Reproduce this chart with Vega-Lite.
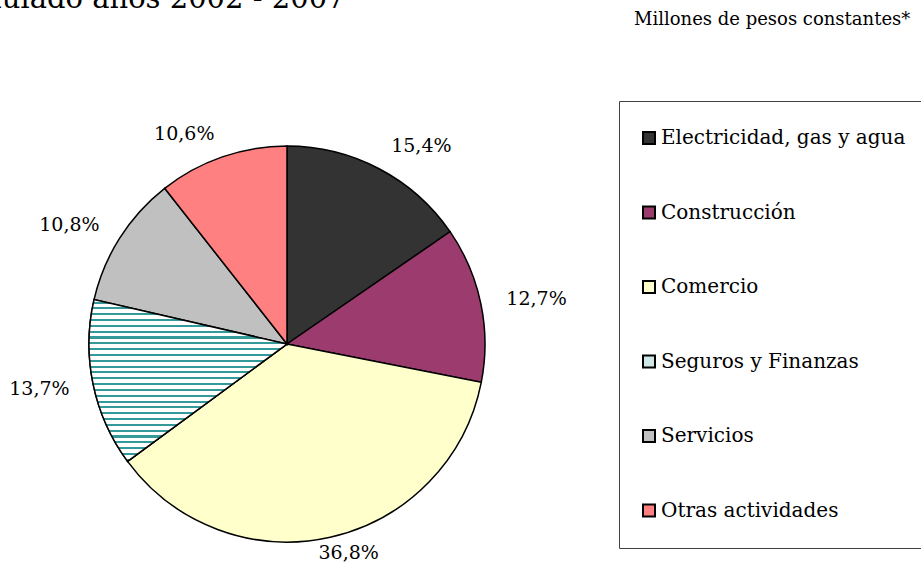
{
  "$schema": "https://vega.github.io/schema/vega-lite/v6.json",
  "width": 574,
  "height": 420,
  "autosize": {"type": "none"},
  "padding": {"left": 0, "top": 134, "right": 347, "bottom": 12},
  "background": "white",
  "title": {
    "text": "acumulado años 2002 - 2007",
    "anchor": "start",
    "frame": "group",
    "font": "DejaVu Serif",
    "fontSize": 29,
    "fontWeight": "normal",
    "color": "black",
    "baseline": "alphabetic",
    "offset": 1,
    "dy": 26.5,
    "dx": -78
  },
  "data": {
    "values": [
      {"Actividad": "Electricidad, gas y agua", "Participacion": 0.154, "Orden": 1, "Unidad": "Millones de pesos constantes*"},
      {"Actividad": "Construcción", "Participacion": 0.127, "Orden": 2, "Unidad": "Millones de pesos constantes*"},
      {"Actividad": "Comercio", "Participacion": 0.368, "Orden": 3, "Unidad": "Millones de pesos constantes*"},
      {"Actividad": "Seguros y Finanzas", "Participacion": 0.137, "Orden": 4, "Unidad": "Millones de pesos constantes*"},
      {"Actividad": "Servicios", "Participacion": 0.108, "Orden": 5, "Unidad": "Millones de pesos constantes*"},
      {"Actividad": "Otras actividades", "Participacion": 0.106, "Orden": 6, "Unidad": "Millones de pesos constantes*"}
    ]
  },
  "layer": [
    {
      "mark": {"type": "arc", "radius": 198, "stroke": "black", "strokeWidth": 1.5},
      "encoding": {
        "theta": {"field": "Participacion", "type": "quantitative", "stack": true},
        "order": {"field": "Orden", "type": "quantitative"},
        "color": {
          "field": "Actividad",
          "type": "nominal",
          "scale": {
            "domain": ["Electricidad, gas y agua", "Construcción", "Comercio", "Seguros y Finanzas", "Servicios", "Otras actividades"],
            "range": ["#333333", "#9c3c6e", "#FFFFCC", "#cfe7e7", "#C0C0C0", "#FF8080"]
          },
          "legend": {
            "title": null,
            "orient": "none",
            "legendX": 619,
            "legendY": -33,
            "padding": 27,
            "strokeColor": "#404040",
            "fillColor": "white",
            "symbolType": "square",
            "symbolSize": 144,
            "symbolStrokeColor": "black",
            "symbolStrokeWidth": 2,
            "symbolOpacity": 1,
            "symbolOffset": -7,
            "labelFont": "DejaVu Serif",
            "labelFontSize": 20,
            "labelColor": "black",
            "labelOffset": 2,
            "labelLimit": 400,
            "rowPadding": 54.5
          }
        },
        "opacity": {
          "field": "Unidad",
          "type": "nominal",
          "scale": {"range": [1, 1]},
          "legend": {
            "title": null,
            "orient": "none",
            "legendX": 616,
            "legendY": -123,
            "padding": 0,
            "symbolSize": 0,
            "symbolOpacity": 0,
            "symbolStrokeWidth": 0,
            "labelOffset": 0,
            "labelFont": "DejaVu Serif",
            "labelFontSize": 18,
            "labelColor": "black",
            "labelLimit": 400
          }
        }
      }
    },
    {
      "mark": {
        "type": "arc",
        "radius": 198,
        "stroke": "black",
        "strokeWidth": 1.5,
        "fill": {
          "gradient": "linear",
          "x1": 0, "y1": 0, "x2": 0, "y2": 1,
          "stops": [
            {"offset": 0, "color": "#ffffff"},
            {"offset": 0.012, "color": "#ffffff"}, {"offset": 0.012, "color": "#339999"}, {"offset": 0.0245, "color": "#339999"}, {"offset": 0.0245, "color": "#ffffff"},
            {"offset": 0.048, "color": "#ffffff"}, {"offset": 0.048, "color": "#339999"}, {"offset": 0.0605, "color": "#339999"}, {"offset": 0.0605, "color": "#ffffff"},
            {"offset": 0.084, "color": "#ffffff"}, {"offset": 0.084, "color": "#339999"}, {"offset": 0.0965, "color": "#339999"}, {"offset": 0.0965, "color": "#ffffff"},
            {"offset": 0.12, "color": "#ffffff"}, {"offset": 0.12, "color": "#339999"}, {"offset": 0.1325, "color": "#339999"}, {"offset": 0.1325, "color": "#ffffff"},
            {"offset": 0.156, "color": "#ffffff"}, {"offset": 0.156, "color": "#339999"}, {"offset": 0.1685, "color": "#339999"}, {"offset": 0.1685, "color": "#ffffff"},
            {"offset": 0.192, "color": "#ffffff"}, {"offset": 0.192, "color": "#339999"}, {"offset": 0.2045, "color": "#339999"}, {"offset": 0.2045, "color": "#ffffff"},
            {"offset": 0.228, "color": "#ffffff"}, {"offset": 0.228, "color": "#339999"}, {"offset": 0.2405, "color": "#339999"}, {"offset": 0.2405, "color": "#ffffff"},
            {"offset": 0.264, "color": "#ffffff"}, {"offset": 0.264, "color": "#339999"}, {"offset": 0.2765, "color": "#339999"}, {"offset": 0.2765, "color": "#ffffff"},
            {"offset": 0.3, "color": "#ffffff"}, {"offset": 0.3, "color": "#339999"}, {"offset": 0.3125, "color": "#339999"}, {"offset": 0.3125, "color": "#ffffff"},
            {"offset": 0.336, "color": "#ffffff"}, {"offset": 0.336, "color": "#339999"}, {"offset": 0.3485, "color": "#339999"}, {"offset": 0.3485, "color": "#ffffff"},
            {"offset": 0.372, "color": "#ffffff"}, {"offset": 0.372, "color": "#339999"}, {"offset": 0.3845, "color": "#339999"}, {"offset": 0.3845, "color": "#ffffff"},
            {"offset": 0.408, "color": "#ffffff"}, {"offset": 0.408, "color": "#339999"}, {"offset": 0.4205, "color": "#339999"}, {"offset": 0.4205, "color": "#ffffff"},
            {"offset": 0.444, "color": "#ffffff"}, {"offset": 0.444, "color": "#339999"}, {"offset": 0.4565, "color": "#339999"}, {"offset": 0.4565, "color": "#ffffff"},
            {"offset": 0.48, "color": "#ffffff"}, {"offset": 0.48, "color": "#339999"}, {"offset": 0.4925, "color": "#339999"}, {"offset": 0.4925, "color": "#ffffff"},
            {"offset": 0.516, "color": "#ffffff"}, {"offset": 0.516, "color": "#339999"}, {"offset": 0.5285, "color": "#339999"}, {"offset": 0.5285, "color": "#ffffff"},
            {"offset": 0.552, "color": "#ffffff"}, {"offset": 0.552, "color": "#339999"}, {"offset": 0.5645, "color": "#339999"}, {"offset": 0.5645, "color": "#ffffff"},
            {"offset": 0.588, "color": "#ffffff"}, {"offset": 0.588, "color": "#339999"}, {"offset": 0.6005, "color": "#339999"}, {"offset": 0.6005, "color": "#ffffff"},
            {"offset": 0.624, "color": "#ffffff"}, {"offset": 0.624, "color": "#339999"}, {"offset": 0.6365, "color": "#339999"}, {"offset": 0.6365, "color": "#ffffff"},
            {"offset": 0.66, "color": "#ffffff"}, {"offset": 0.66, "color": "#339999"}, {"offset": 0.6725, "color": "#339999"}, {"offset": 0.6725, "color": "#ffffff"},
            {"offset": 0.696, "color": "#ffffff"}, {"offset": 0.696, "color": "#339999"}, {"offset": 0.7085, "color": "#339999"}, {"offset": 0.7085, "color": "#ffffff"},
            {"offset": 0.732, "color": "#ffffff"}, {"offset": 0.732, "color": "#339999"}, {"offset": 0.7445, "color": "#339999"}, {"offset": 0.7445, "color": "#ffffff"},
            {"offset": 0.768, "color": "#ffffff"}, {"offset": 0.768, "color": "#339999"}, {"offset": 0.7805, "color": "#339999"}, {"offset": 0.7805, "color": "#ffffff"},
            {"offset": 0.804, "color": "#ffffff"}, {"offset": 0.804, "color": "#339999"}, {"offset": 0.8165, "color": "#339999"}, {"offset": 0.8165, "color": "#ffffff"},
            {"offset": 0.84, "color": "#ffffff"}, {"offset": 0.84, "color": "#339999"}, {"offset": 0.8525, "color": "#339999"}, {"offset": 0.8525, "color": "#ffffff"},
            {"offset": 0.876, "color": "#ffffff"}, {"offset": 0.876, "color": "#339999"}, {"offset": 0.8885, "color": "#339999"}, {"offset": 0.8885, "color": "#ffffff"},
            {"offset": 0.912, "color": "#ffffff"}, {"offset": 0.912, "color": "#339999"}, {"offset": 0.9245, "color": "#339999"}, {"offset": 0.9245, "color": "#ffffff"},
            {"offset": 0.948, "color": "#ffffff"}, {"offset": 0.948, "color": "#339999"}, {"offset": 0.9605, "color": "#339999"}, {"offset": 0.9605, "color": "#ffffff"},
            {"offset": 0.984, "color": "#ffffff"}, {"offset": 0.984, "color": "#339999"}, {"offset": 0.9965, "color": "#339999"}, {"offset": 0.9965, "color": "#ffffff"},
            {"offset": 1, "color": "#ffffff"}
          ]
        }
      },
      "encoding": {
        "theta": {"field": "Participacion", "type": "quantitative", "stack": true},
        "order": {"field": "Orden", "type": "quantitative"},
        "opacity": {"condition": {"test": "datum.Orden == 4", "value": 1}, "value": 0}
      }
    },
    {
      "mark": {"type": "text", "radius": 224, "align": "left", "baseline": "middle", "font": "DejaVu Serif", "fontSize": 19, "color": "black"},
      "encoding": {
        "theta": {"field": "Participacion", "type": "quantitative", "stack": true},
        "order": {"field": "Orden", "type": "quantitative"},
        "text": {"condition": {"test": "datum.Orden <= 2", "field": "Participacion", "type": "quantitative", "format": ".1%"}, "value": ""}
      }
    },
    {
      "mark": {"type": "text", "radius": 214, "align": "center", "baseline": "middle", "dx": 15, "font": "DejaVu Serif", "fontSize": 19, "color": "black"},
      "encoding": {
        "theta": {"field": "Participacion", "type": "quantitative", "stack": true},
        "order": {"field": "Orden", "type": "quantitative"},
        "text": {"condition": {"test": "datum.Orden == 3", "field": "Participacion", "type": "quantitative", "format": ".1%"}, "value": ""}
      }
    },
    {
      "mark": {"type": "text", "radius": 222, "align": "right", "baseline": "middle", "font": "DejaVu Serif", "fontSize": 19, "color": "black"},
      "encoding": {
        "theta": {"field": "Participacion", "type": "quantitative", "stack": true},
        "order": {"field": "Orden", "type": "quantitative"},
        "text": {"condition": {"test": "datum.Orden >= 4", "field": "Participacion", "type": "quantitative", "format": ".1%"}, "value": ""}
      }
    }
  ],
  "config": {
    "view": {"stroke": null},
    "locale": {"number": {"decimal": ",", "thousands": ".", "grouping": [3], "currency": ["$", ""]}}
  }
}
